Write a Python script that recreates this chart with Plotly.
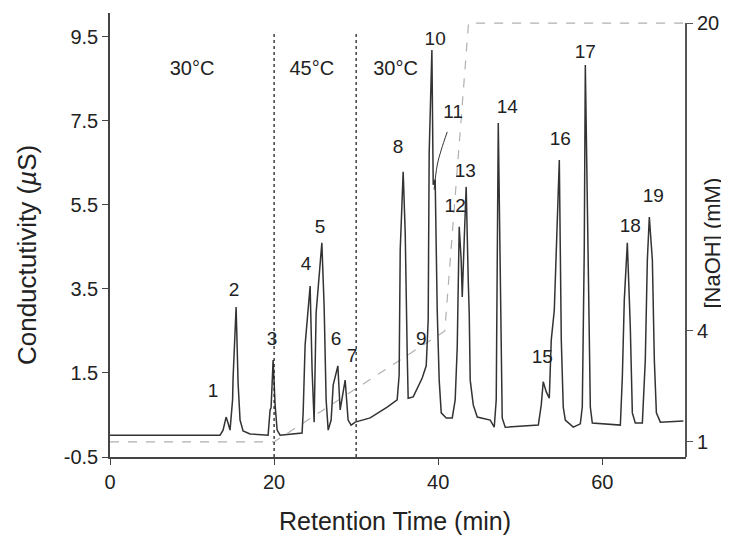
import numpy as np
import plotly.graph_objects as go

# ---------------- data ----------------
TIME = [0.0, 13.41, 13.78, 14.15, 14.39, 14.63, 14.94, 15.0, 15.37, 15.61, 15.85, 16.22, 17.07,
        19.27, 19.51, 19.63, 19.88, 20.12, 20.37, 20.73,
        23.41, 23.54, 23.78, 24.39, 24.63, 24.88, 25.12, 25.82, 26.10, 26.34, 26.59,
        26.95, 27.2, 27.77, 28.05, 28.66, 29.02, 29.39, 29.88, 31.71, 33.78,
        35.0, 35.24, 35.37, 35.73, 35.98, 36.22, 36.34, 36.95, 38.05, 38.54,
        38.78, 38.9, 39.23, 39.39, 39.63, 39.88, 40.12, 40.37, 40.98, 41.71,
        42.07, 42.32, 42.56, 42.80, 42.93, 43.17, 43.41, 43.66, 43.78, 43.90, 44.27, 44.76,
        46.34, 46.83, 47.07, 47.32, 47.56, 47.80, 48.17,
        52.20, 52.56, 52.80, 53.17, 53.54, 53.78, 54.15, 54.76, 55.0, 55.24, 55.49, 56.46,
        57.32, 57.56, 57.80, 57.93, 58.29, 58.54, 58.78,
        62.20, 62.44, 62.68, 63.05, 63.41, 63.66, 64.02,
        64.88, 65.24, 65.49, 65.73, 66.10, 66.34, 66.59, 67.07, 69.88]
COND = [0.02, 0.02, 0.14, 0.45, 0.31, 0.14, 0.86, 1.38, 3.07, 1.26, 0.38, 0.12, 0.05,
        0.02, 0.62, 0.67, 1.81, 0.74, 0.14, 0.02,
        0.07, 0.55, 2.17, 3.57, 1.57, 0.33, 2.93, 4.60, 3.07, 0.86, 0.14,
        0.38, 1.21, 1.67, 0.62, 1.33, 0.38, 0.26, 0.33, 0.43, 0.69,
        0.86, 1.45, 4.43, 6.29, 4.83, 1.98, 0.90, 0.93, 1.38, 1.67,
        2.76, 6.74, 9.19, 5.98, 6.10, 2.98, 1.33, 0.55, 0.43, 0.43,
        0.86, 2.12, 4.98, 4.19, 3.31, 4.67, 5.93, 3.71, 2.93, 1.33, 0.74, 0.45,
        0.38, 0.21, 0.86, 7.45, 3.24, 0.43, 0.21,
        0.26, 0.74, 1.29, 1.05, 0.90, 2.29, 3.0, 6.57, 2.29, 0.69, 0.38, 0.21,
        0.29, 0.69, 4.43, 8.83, 4.43, 0.69, 0.31,
        0.26, 1.40, 3.24, 4.60, 2.60, 0.55, 0.31,
        0.31, 1.81, 4.19, 5.21, 4.19, 1.81, 0.55, 0.33, 0.36]

# NaOH gradient (mM)
GRAD_TIME = [0.0, 20.0, 40.8, 43.7, 70.2]
GRAD_NAOH = [1, 1, 4, 20, 20]

# right-axis ticks (mM) and where they sit on the conductivity scale
NAOH_TICKS = [1, 4, 20]
NAOH_TICK_POS = [-0.14, 2.5, 9.83]

# peak labels
PEAK_LABELS = [str(i) for i in range(1, 20)]
PEAK_X = [12.56, 15.12, 19.76, 23.90, 25.61, 27.56, 29.51, 35.12, 37.93, 39.63,
          41.83, 42.07, 43.29, 48.41, 52.68, 54.88, 57.93, 63.41, 66.22]
PEAK_Y = [1.05, 3.45, 2.29, 4.07, 4.95, 2.29, 1.88, 6.86, 2.29, 9.43,
          7.69, 5.45, 6.29, 7.81, 1.86, 7.05, 9.12, 4.98, 5.69]

LEADER_11_X = [39.5, 39.88, 40.37, 41.1]
LEADER_11_Y = [5.86, 6.45, 6.81, 7.24]

# temperature zones
TEMP_SWITCH = [20, 30]
TEMP_LABELS = ["30°C", "45°C", "30°C"]
TEMP_X = [10.0, 24.6, 34.8]
TEMP_Y = 8.71

X_TICKS = [0, 20, 40, 60]
Y_TICKS = [-0.5, 1.5, 3.5, 5.5, 7.5, 9.5]

FONT = "Liberation Sans, Arial, Helvetica, sans-serif"
TXT = "#222222"

fig = go.Figure()

# gradient (dashed grey)
grad_y = np.interp(GRAD_NAOH, NAOH_TICKS, NAOH_TICK_POS)
fig.add_trace(go.Scatter(x=GRAD_TIME, y=grad_y, mode="lines",
                         line=dict(color="#b0b0b0", width=1.2, dash="dash"),
                         hoverinfo="skip", showlegend=False))

# chromatogram
fig.add_trace(go.Scatter(x=TIME, y=COND, mode="lines",
                         line=dict(color="#333333", width=1.5),
                         showlegend=False))

# leader line for peak 11
fig.add_trace(go.Scatter(x=LEADER_11_X, y=LEADER_11_Y, mode="lines",
                         line=dict(color="#333333", width=1, shape="spline"),
                         hoverinfo="skip", showlegend=False))

# peak labels
fig.add_trace(go.Scatter(x=PEAK_X, y=PEAK_Y, mode="text", text=PEAK_LABELS,
                         textfont=dict(family=FONT, size=19, color=TXT),
                         hoverinfo="skip", showlegend=False))

# temperature labels
fig.add_trace(go.Scatter(x=TEMP_X, y=[TEMP_Y] * len(TEMP_X), mode="text", text=TEMP_LABELS,
                         textfont=dict(family=FONT, size=20, color=TXT),
                         hoverinfo="skip", showlegend=False))

# invisible trace to activate y2
fig.add_trace(go.Scatter(x=[None], y=[None], yaxis="y2", showlegend=False))

shapes = []
for t in TEMP_SWITCH:
    shapes.append(dict(type="line", xref="x", yref="y", x0=t, x1=t, y0=-0.5, y1=9.6,
                       line=dict(color="#222222", width=1.3, dash="dot")))
# right axis line (stops at the 20 mM tick)
shapes.append(dict(type="line", xref="paper", yref="y", x0=1, x1=1, y0=-0.5, y1=NAOH_TICK_POS[-1],
                   line=dict(color="#555555", width=2)))

annotations = [
    dict(text="Retention Time (min)", x=0.495, xref="paper", y=-0.144, yref="paper",
         showarrow=False, font=dict(family=FONT, size=25, color=TXT), yanchor="middle"),
    dict(text="Conductutivity (<i>µ</i>S)", x=-0.144, xref="paper", y=0.455, yref="paper",
         showarrow=False, textangle=-90, font=dict(family=FONT, size=26, color=TXT),
         xanchor="center", yanchor="middle"),
    dict(text="[NaOH] (mM)", x=1.046, xref="paper", y=0.482, yref="paper",
         showarrow=False, textangle=-90, font=dict(family=FONT, size=22, color=TXT),
         xanchor="center", yanchor="middle"),
]

fig.update_layout(
    width=721, height=529,
    margin=dict(l=102, r=43, t=5, b=80),
    paper_bgcolor="white", plot_bgcolor="white",
    font=dict(family=FONT, size=20, color=TXT),
    shapes=shapes, annotations=annotations,
    xaxis=dict(range=[0, 70.2], tickvals=X_TICKS, ticks="outside", ticklen=6,
               tickcolor="#444", showline=True, linecolor="#444", linewidth=1.5,
               showgrid=False, zeroline=False, tickfont=dict(size=20)),
    yaxis=dict(range=[-0.5, 10.07], tickvals=Y_TICKS, ticktext=[f"{v:.1f}" for v in Y_TICKS],
               ticks="outside", ticklen=6, tickcolor="#444", showline=True,
               linecolor="#444", linewidth=1.5, showgrid=False, zeroline=False,
               tickfont=dict(size=20)),
    yaxis2=dict(range=[-0.5, 10.07], overlaying="y", side="right",
                tickvals=NAOH_TICK_POS, ticktext=[str(v) for v in NAOH_TICKS],
                ticks="outside", ticklen=6, tickcolor="#555", showline=False,
                showgrid=False, zeroline=False, tickfont=dict(size=20)),
)

fig.write_html("out.html")
